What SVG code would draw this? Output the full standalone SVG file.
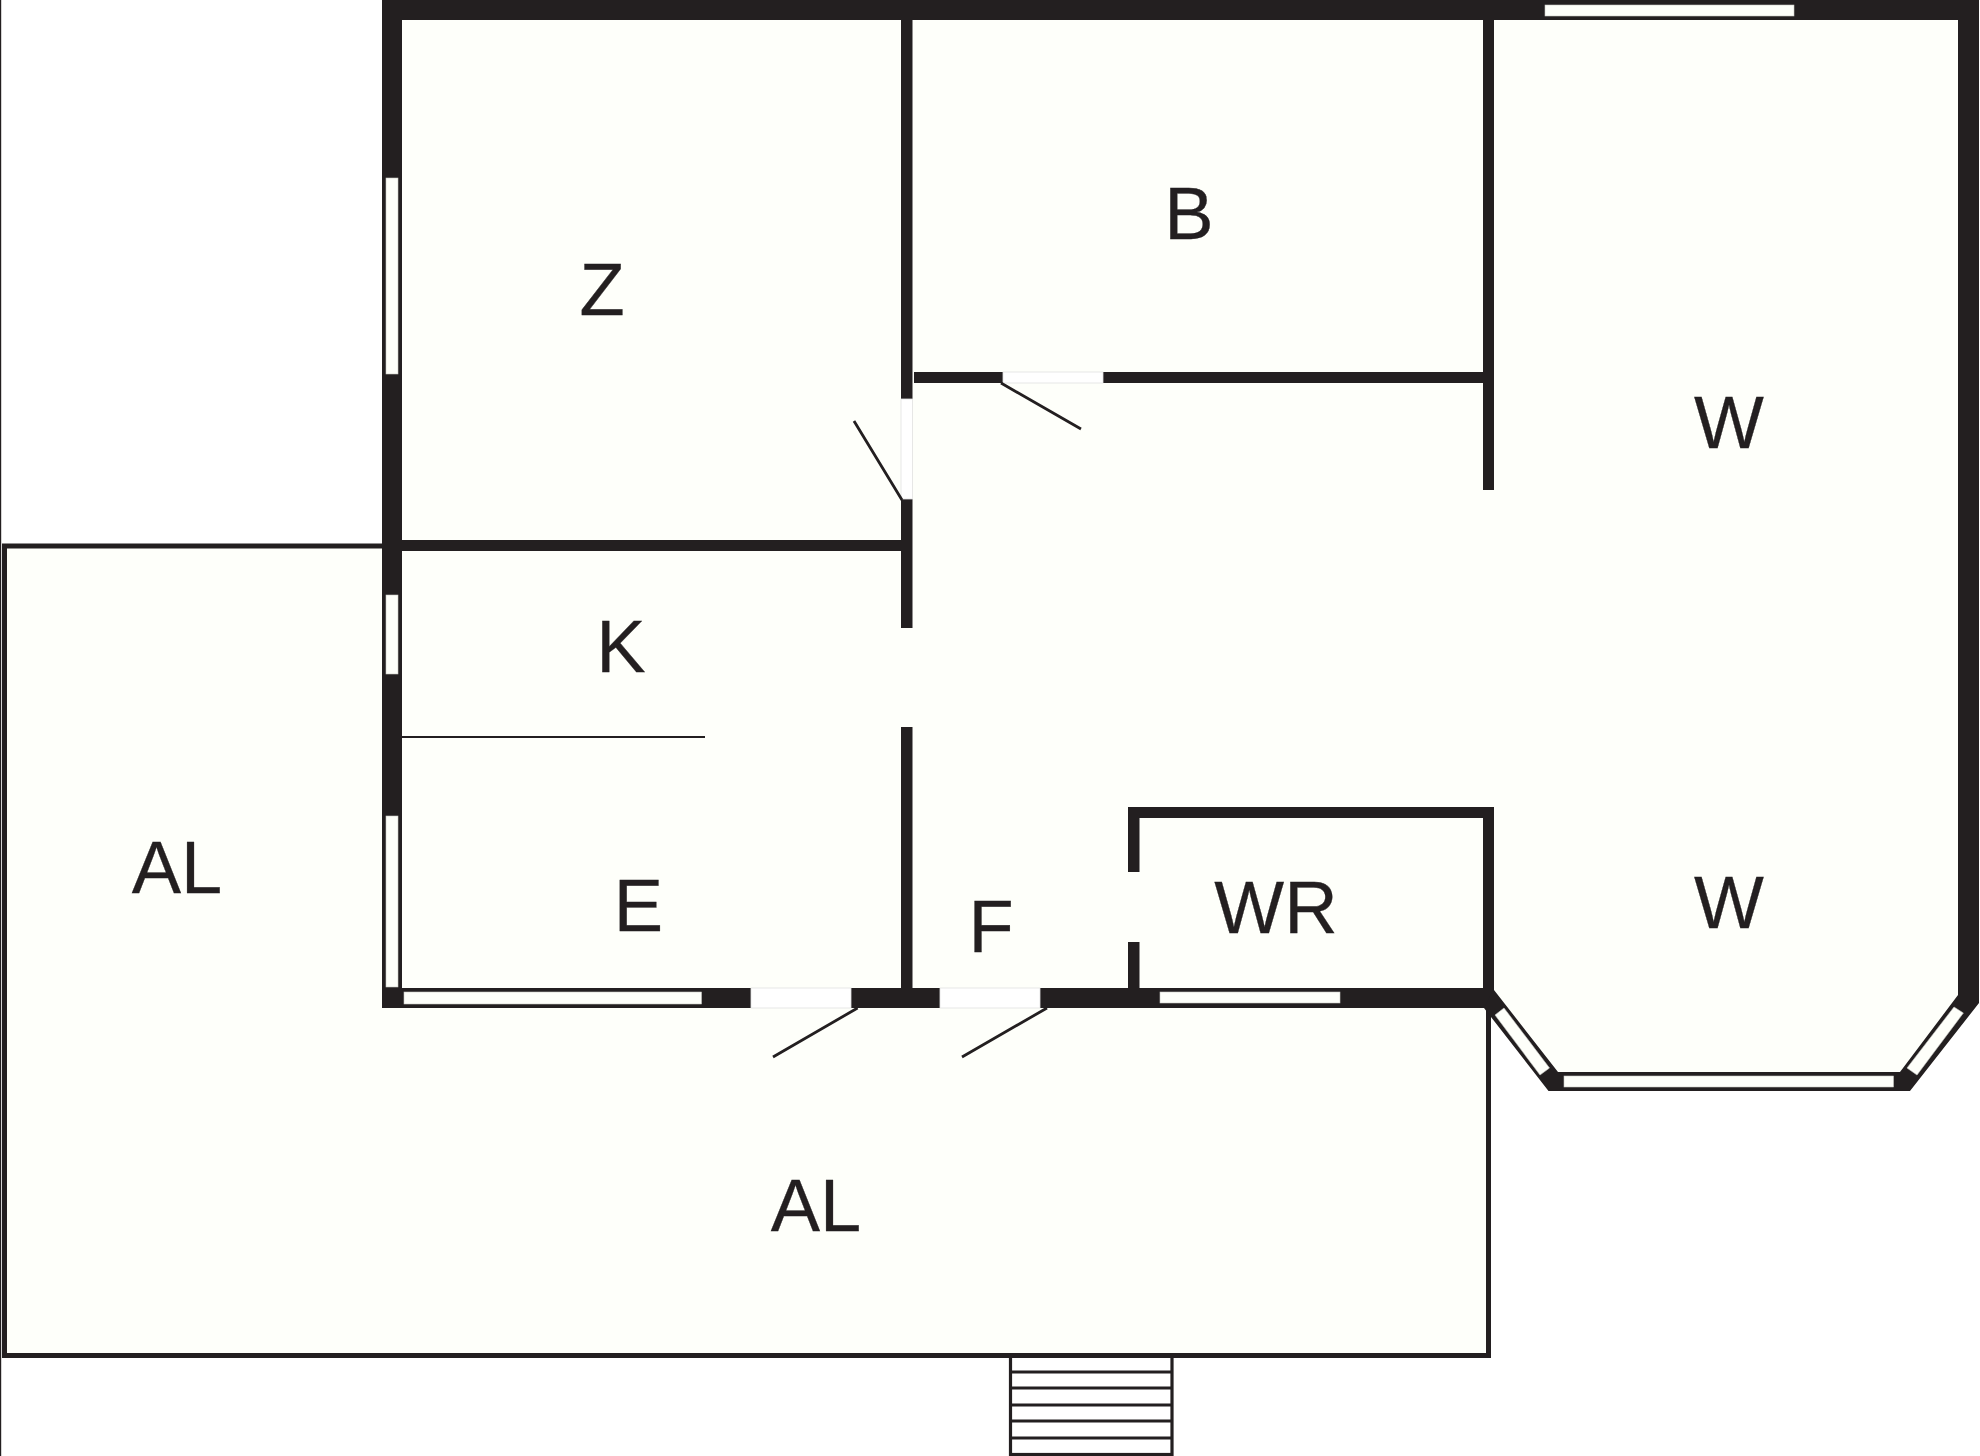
<svg xmlns="http://www.w3.org/2000/svg" width="1980" height="1456" viewBox="0 0 1980 1456">
<style>
.floor{fill:#fefffa}
.wall{fill:#231f20}
.win{fill:#fefffa;stroke:#c8c8c4;stroke-width:.6}
.door{fill:#fff;stroke:#e2e2e0;stroke-width:.8}
.leaf{stroke:#231f20;stroke-width:2.8;fill:none}
.outline{fill:#fefffa;stroke:#231f20;stroke-width:5}
.step{stroke:#231f20;stroke-width:2.8;fill:none}
text{font-family:"Liberation Sans",Arial,sans-serif;font-size:74px;fill:#231f20;stroke:#231f20;stroke-width:.3;text-anchor:middle}
</style>
<rect width="1980" height="1456" fill="#fff"/>
<rect x="0" y="0" width="1.2" height="1456" fill="#231f20"/>
<g id="stairs">
<rect x="1010.500" y="1355" width="161.500" height="99.500" fill="#fff" stroke="#231f20" stroke-width="3.200"/>
<path class="step" d="M1010 1372H1172M1010 1388H1172M1010 1405H1172M1010 1421H1172M1010 1438H1172"/>
</g>
<polygon id="terrace" class="outline" points="4.500,546 385,546 385,1000 1488.500,1000 1488.500,1355.500 4.500,1355.500"/>
<polygon id="floor" class="floor" points="402,20 1958,20 1958,995 1900,1072 1558,1072 1494,990 1494,988 402,988"/>
<g id="walls">
<rect class="wall" x="382" y="0" width="1597" height="20"/>
<rect class="wall" x="382" y="0" width="20" height="1008"/>
<rect class="wall" x="382" y="988" width="1112" height="20"/>
<path class="wall" d="M1958 16H1979V1003L1910 1091H1548.500L1491 1017L1484 1008L1494 988V990L1558 1072H1900L1958 995Z"/>
<rect class="wall" x="402" y="540" width="499" height="11"/>
<rect class="wall" x="402" y="736" width="303" height="2"/>
<rect class="wall" x="901" y="20" width="11.500" height="379"/>
<rect class="wall" x="901" y="499" width="11.500" height="129"/>
<rect class="wall" x="901" y="727" width="11.500" height="262"/>
<rect class="wall" x="914" y="372" width="569" height="11"/>
<rect class="wall" x="1483" y="20" width="11" height="470"/>
<path class="wall" d="M1128 807H1494V988H1483V818H1139.500V872H1128Z"/>
<rect class="wall" x="1128" y="942" width="11.500" height="47"/>
</g>
<g id="windows">
<rect class="win" x="1545" y="5" width="249" height="11"/>
<rect class="win" x="386" y="178" width="12" height="196"/>
<rect class="win" x="386" y="595" width="12" height="79"/>
<rect class="win" x="386" y="816" width="12" height="171"/>
<rect class="win" x="404" y="992" width="297.500" height="12"/>
<rect class="win" x="1160" y="992" width="180" height="11"/>
<rect class="win" x="1564" y="1076" width="329.500" height="11"/>
<polygon class="win" points="1495,1015 1504,1008 1549.500,1068 1540,1075"/>
<polygon class="win" points="1907,1068 1917,1075 1963.400,1013 1954,1007"/>
</g>
<g id="doors">
<rect class="door" x="901" y="399" width="11.500" height="100"/>
<rect class="door" x="1003" y="372" width="100" height="11"/>
<rect class="door" x="751" y="988" width="100" height="20"/>
<rect class="door" x="940" y="988" width="100" height="20"/>
<path class="leaf" d="M854 421L902 500M1001 383L1081 429M857.600 1008L773 1057M1047 1008L962 1057"/>
</g>
<g id="labels">
<text x="602" y="314.500">Z</text>
<text x="1189" y="239">B</text>
<text x="1729" y="448">W</text>
<text x="621" y="671.500">K</text>
<text x="638.500" y="930.500">E</text>
<text x="177" y="892.500">AL</text>
<text x="1729" y="928">W</text>
<text x="991" y="951.500">F</text>
<text x="1276" y="933">WR</text>
<text x="816" y="1230.500">AL</text>
</g>
</svg>
